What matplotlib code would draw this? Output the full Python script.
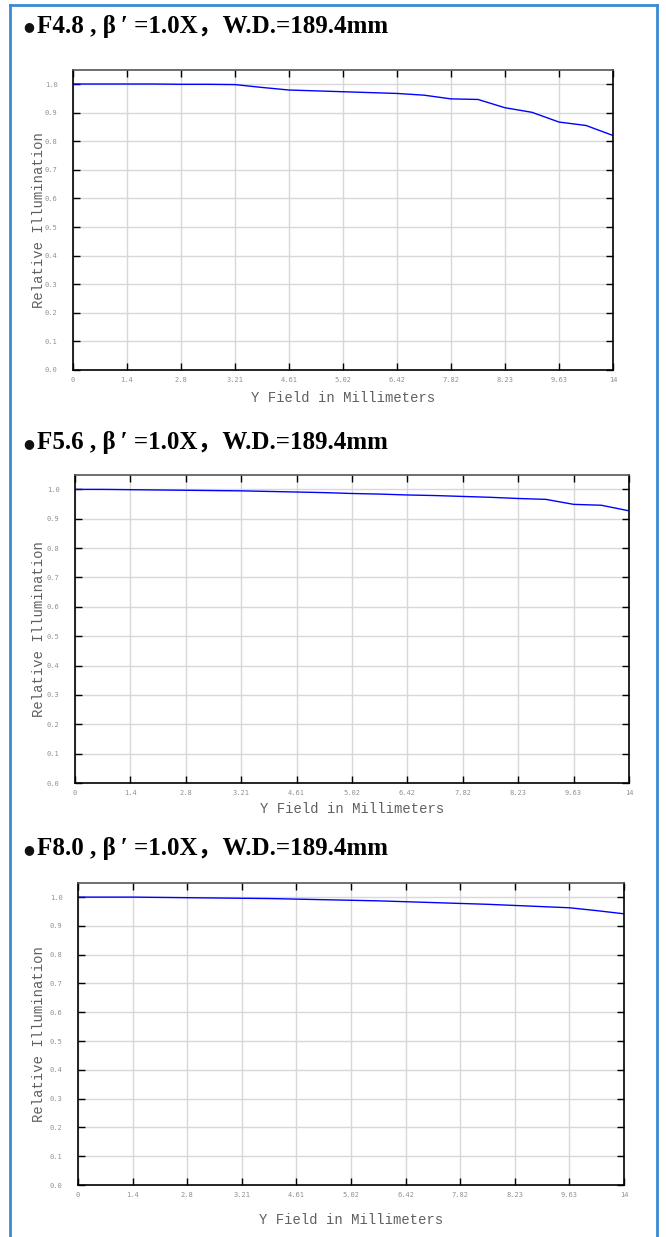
import numpy as np
import matplotlib
matplotlib.use("Agg")
import matplotlib.pyplot as plt
from matplotlib.lines import Line2D

# field positions (mm) and relative illumination for each f-number
field_mm = [0, 0.7, 1.4, 2.1, 2.8, 3.5, 4.2, 4.9, 5.6, 6.3, 7.0,
            7.7, 8.4, 9.1, 9.8, 10.5, 11.2, 11.9, 12.6, 13.3, 14.0]
ri_f48 = [1.0, 1.0, 1.0, 1.0, 0.999, 0.999, 0.998, 0.988, 0.979, 0.976, 0.973,
          0.970, 0.967, 0.961, 0.948, 0.946, 0.917, 0.901, 0.867, 0.855, 0.820]
ri_f56 = [1.0, 1.0, 0.999, 0.998, 0.997, 0.996, 0.995, 0.993, 0.991, 0.989, 0.986,
          0.984, 0.981, 0.979, 0.976, 0.973, 0.969, 0.966, 0.949, 0.946, 0.927]
ri_f80 = [1.0, 1.0, 1.0, 0.999, 0.998, 0.997, 0.996, 0.995, 0.993, 0.991, 0.989,
          0.987, 0.984, 0.981, 0.978, 0.975, 0.971, 0.967, 0.963, 0.953, 0.942]

titles = ["F4.8 , \u03B2\u2009\u2032 =1.0X\uFF0CW.D.=189.4mm",
          "F5.6 , \u03B2\u2009\u2032 =1.0X\uFF0CW.D.=189.4mm",
          "F8.0 , \u03B2\u2009\u2032 =1.0X\uFF0CW.D.=189.4mm"]

x_ticks = [0, 1.4, 2.8, 4.2, 5.6, 7.0, 8.4, 9.8, 11.2, 12.6, 14.0]
x_tick_labels = ["0", "1.4", "2.8", "3.21", "4.61", "5.02", "6.42", "7.82", "8.23", "9.63", "14"]
y_ticks = [0.0, 0.1, 0.2, 0.3, 0.4, 0.5, 0.6, 0.7, 0.8, 0.9, 1.0]
y_tick_labels = ["0.0", "0.1", "0.2", "0.3", "0.4", "0.5", "0.6", "0.7", "0.8", "0.9", "1.0"]

W, H = 666, 1237
fig = plt.figure(figsize=(W / 100, H / 100), dpi=100)

# axes boxes in pixels: left, right, top, bottom
boxes = [(73, 613, 70, 370), (75, 629, 475, 783), (78, 624, 883, 1185)]
title_y = [26, 443, 849]
xlabel_y = [398, 809, 1220]
series = [ri_f48, ri_f56, ri_f80]

mono = "Liberation Mono"
serif = ["Liberation Serif", "Noto Sans CJK SC", "DejaVu Serif"]

for i in range(3):
    l, r, t, b = boxes[i]
    ax = fig.add_axes([l / W, 1 - b / H, (r - l) / W, (b - t) / H])
    ax.plot(field_mm, series[i], color="#0000ff", lw=1.0)
    ax.set_xlim(0, 14)
    ax.set_ylim(0, 1.049)
    ax.set_xticks(x_ticks)
    ax.set_xticklabels(x_tick_labels)
    ax.set_yticks(y_ticks)
    ax.set_yticklabels(y_tick_labels)
    ax.grid(True, color="#d8d8d8", lw=1.0)
    ax.set_axisbelow(True)
    ax.tick_params(direction="in", length=5, width=1.0, color="black",
                   top=True, right=True, labelsize=5, labelcolor="#909090")
    ax.tick_params(axis="y", pad=11)
    ax.tick_params(axis="x", pad=5)
    for lab in ax.get_xticklabels() + ax.get_yticklabels():
        lab.set_family("DejaVu Sans Mono")
    for s in ax.spines.values():
        s.set_linewidth(1.2)
        s.set_color("black")
    ax.spines["top"].set_color("#555555")
    ax.set_xlabel("Y Field in Millimeters", family=mono, fontsize=10, color="#606060")
    ax.xaxis.set_label_coords(0.5, (b - xlabel_y[i]) / (b - t))
    ax.set_ylabel("Relative Illumination", family=mono, fontsize=10, color="#606060")
    ax.yaxis.set_label_coords((39 - l) / (r - l), 0.5)
    ax.xaxis.label.set_va("center")
    ax.yaxis.label.set_va("center")
    fig.text(29 / W, 1 - (title_y[i] + 1) / H, "\u25CF", family="DejaVu Sans",
             fontsize=9, color="#111111", va="center", ha="center")
    fig.text(37 / W, 1 - title_y[i] / H, titles[i], family=serif,
             fontweight="bold", fontsize=18, color="black", va="center", ha="left")

# blue frame around the page
frame_c = "#3a8ad4"
fig.add_artist(Line2D([10 / W, 10 / W], [0, 1 - 5 / H], color=frame_c, lw=2))
fig.add_artist(Line2D([657 / W, 657 / W], [0, 1 - 5 / H], color=frame_c, lw=2))
fig.add_artist(Line2D([10 / W, 657 / W], [1 - 5 / H, 1 - 5 / H], color=frame_c, lw=2))

fig.savefig("out.png", dpi=100)
